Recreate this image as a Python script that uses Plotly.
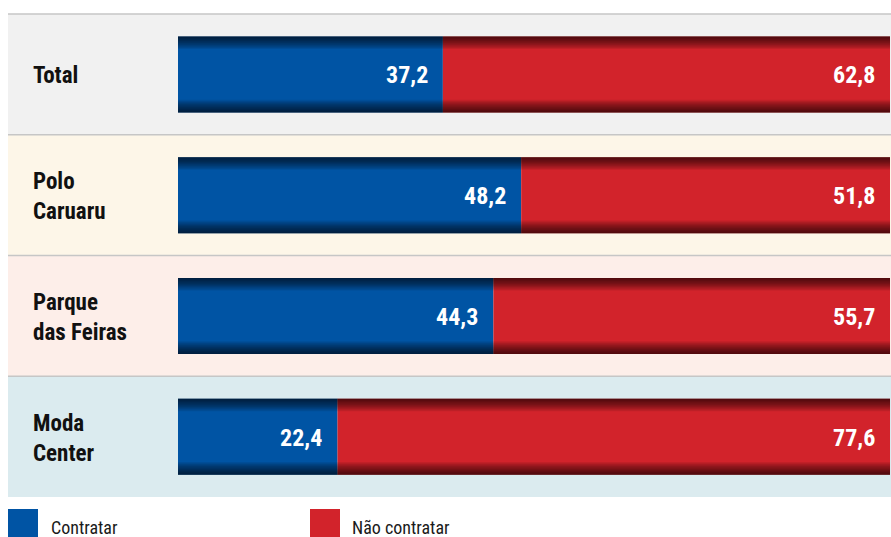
import plotly.graph_objects as go
import numpy as np

categories = ["Total", "Polo<br>Caruaru", "Parque<br>das Feiras", "Moda<br>Center"]
contratar = [37.2, 48.2, 44.3, 22.4]
nao_contratar = [62.8, 51.8, 55.7, 77.6]
series_names = ["Contratar", "Não contratar"]

band_colors = ["#f1f1f1", "#fdf6e8", "#fdeee9", "#dbebef"]
blue = "#0054a4"
red = "#d2232b"
FONT = "Roboto, sans-serif"

def cond(t):
    return "<br>".join(f"<span style='font-stretch:condensed'>{p}</span>" for p in t.split("<br>"))

W = 891
H = 537
ml, mr, mt, mb = 178, 1, 14, 40
pw = W - ml - mr
ph = H - mt - mb
row_px = ph / 4.0
px = 1.0 / row_px
bar_w = 76 * px

ypos = list(range(len(categories)))
blue_arr = np.array(contratar)
red_arr = np.array(nao_contratar)
total_arr = blue_arr + red_arr

fig = go.Figure()

shapes = []
left_paper = (8 - ml) / pw
for i, c in enumerate(band_colors):
    y1 = 1 - i * 0.25
    y0 = 1 - (i + 1) * 0.25
    shapes.append(dict(type="rect", xref="paper", yref="paper", x0=left_paper, x1=1.0 + 1.0 / pw,
                       y0=y0, y1=y1, fillcolor=c, line=dict(width=0), layer="below"))
for i in range(4):
    yl = 1 - i * 0.25
    shapes.append(dict(type="line", xref="paper", yref="paper", x0=left_paper, x1=1.0 + 1.0 / pw,
                       y0=yl, y1=yl, line=dict(color="#c6c6c6", width=1.5), layer="below"))

fig.add_trace(go.Bar(y=ypos, x=blue_arr, base=0, orientation="h", width=bar_w,
                     marker=dict(color=blue, line=dict(width=0)), name=series_names[0],
                     hoverinfo="skip", showlegend=False))
fig.add_trace(go.Bar(y=ypos, x=red_arr, base=blue_arr, orientation="h", width=bar_w,
                     marker=dict(color=red, line=dict(width=0)),
                     name=series_names[1], hoverinfo="skip", showlegend=False))

K = 11
for k in range(1, K + 1):
    d = k * 1.15 * px
    for off in (-bar_w / 2, bar_w / 2 - d):
        fig.add_trace(go.Bar(y=ypos, x=total_arr, base=0, orientation="h",
                             width=d, offset=off,
                             marker=dict(color="rgba(0,0,0,0.08)", line=dict(width=0)),
                             hoverinfo="skip", showlegend=False))

annotations = []
for i, cat in enumerate(categories):
    annotations.append(dict(x=(31 - ml) / pw, xref="paper", y=i, yref="y", text=cond(cat),
                            showarrow=False, xanchor="left", yanchor="middle", align="left",
                            yshift=-1.5,
                            font=dict(family=FONT, size=23, color="#111111", weight="bold")))
    annotations.append(dict(x=blue_arr[i], xref="x", y=i, yref="y",
                            text=cond(f"{contratar[i]:.1f}".replace(".", ",")), showarrow=False,
                            xanchor="right", yanchor="middle", xshift=-13, yshift=-1,
                            font=dict(family=FONT, size=24, color="white", weight="bold")))
    annotations.append(dict(x=total_arr[i], xref="x", y=i, yref="y",
                            text=cond(f"{nao_contratar[i]:.1f}".replace(".", ",")), showarrow=False,
                            xanchor="right", yanchor="middle", xshift=-13, yshift=-1,
                            font=dict(family=FONT, size=24, color="white", weight="bold")))

def py(pix):
    return (H - mb - pix) / ph

leg = [(8, 38, 49, blue, series_names[0]), (310, 340, 350, red, series_names[1])]
for x0, x1, tx, col, name in leg:
    shapes.append(dict(type="rect", xref="paper", yref="paper",
                       x0=(x0 - ml) / pw, x1=(x1 - ml) / pw, y0=py(537), y1=py(509),
                       fillcolor=col, line=dict(width=0)))
    annotations.append(dict(x=(tx - ml) / pw, xref="paper", y=py(527), yref="paper", text=cond(name),
                            showarrow=False, xanchor="left", yanchor="middle",
                            font=dict(family=FONT, size=18, color="#1a1a1a")))

fig.update_layout(
    width=W, height=H,
    margin=dict(l=ml, r=mr, t=mt, b=mb, pad=0),
    paper_bgcolor="white", plot_bgcolor="rgba(0,0,0,0)",
    barmode="overlay",
    xaxis=dict(range=[0, 100], visible=False, fixedrange=True),
    yaxis=dict(range=[3.5, -0.5], visible=False, fixedrange=True),
    shapes=shapes, annotations=annotations,
    showlegend=False,
)

fig.write_html("out.html", config={"displayModeBar": False})
